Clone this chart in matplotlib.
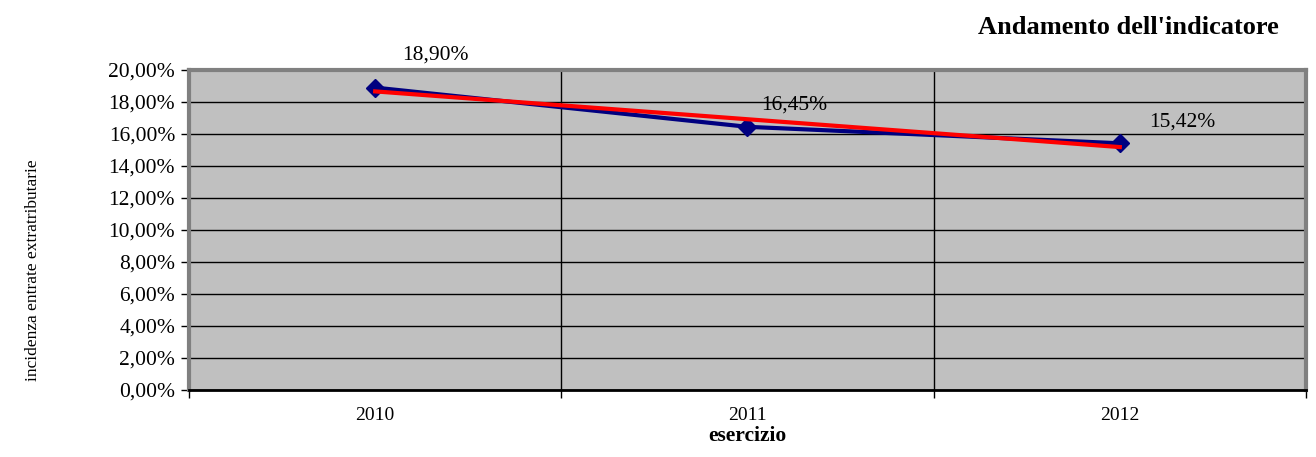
import matplotlib.pyplot as plt
import numpy as np
from matplotlib.ticker import FixedLocator, FuncFormatter

plt.rcParams["font.family"] = "Liberation Serif"

# dati
anni = ["2010", "2011", "2012"]
valori = [18.90, 16.45, 15.42]
etichette = ["18,90%", "16,45%", "15,42%"]

x = np.arange(len(anni))

fig = plt.figure(figsize=(13.16, 4.57), dpi=100, facecolor="white")
ax = fig.add_axes([0.1436, 0.1466, 0.8488, 0.7002])
ax.set_facecolor("#C0C0C0")

# linea dati
ax.plot(x, valori, color="#000080", linewidth=3, marker="D", markersize=9,
        zorder=3)

# linea di tendenza lineare
coef = np.polyfit(x, valori, 1)
ax.plot(x, np.polyval(coef, x), color="#FF0000", linewidth=3, zorder=4)

# etichette dei valori (spostamento in pixel)
spost = [(60, 33), (47, 22), (62, 21)]
for xi, v, s, (dx, dy) in zip(x, valori, etichette, spost):
    ax.annotate(s, (xi, v), xytext=(dx * 0.72, dy * 0.72),
                textcoords="offset points", ha="center", va="center",
                fontsize=15.5, zorder=5)

ax.set_xlim(-0.5, 2.5)
ax.set_ylim(0, 20)
ax.set_yticks(np.arange(0, 21, 2))
ax.yaxis.set_major_formatter(FuncFormatter(lambda v, p: f"{v:.2f}".replace(".", ",") + "%"))
ax.yaxis.grid(True, color="black", linewidth=1)
ax.set_axisbelow(True)

ax.set_xticks(x)
ax.set_xticklabels(anni)
ax.tick_params(axis="x", length=0, labelsize=14, pad=12)
ax.xaxis.set_minor_locator(FixedLocator([-0.5, 0.5, 1.5, 2.5]))
ax.tick_params(axis="x", which="minor", length=6, width=1, color="black")
for b in [0.5, 1.5]:
    ax.axvline(b, color="black", linewidth=1, zorder=1)
ax.tick_params(axis="y", length=6, width=1, labelsize=15.5, pad=4)

for s in ["top", "right", "left"]:
    ax.spines[s].set_color("#808080")
    ax.spines[s].set_linewidth(3)
ax.spines["bottom"].set_color("black")
ax.spines["bottom"].set_linewidth(2)

ax.set_xlabel("esercizio", fontsize=15.5, fontweight="bold", labelpad=2)
fig.text(0.025, 0.409, "incidenza entrate extratributarie", rotation=90,
         ha="center", va="center", fontsize=12.5)
fig.text(0.9715, 0.94, "Andamento dell'indicatore", ha="right", va="center",
         fontsize=19, fontweight="bold")

plt.savefig("out.png")
